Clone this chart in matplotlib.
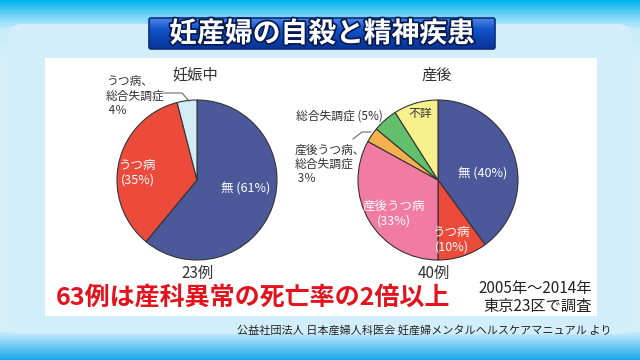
import matplotlib
matplotlib.use("Agg")
import matplotlib.pyplot as plt
import numpy as np
from matplotlib.colors import LinearSegmentedColormap
from matplotlib.patches import FancyBboxPatch, Rectangle
import matplotlib.patheffects as pe

plt.rcParams["font.family"] = ["Noto Sans CJK JP", "DejaVu Sans"]

TITLE = "妊産婦の自殺と精神疾患"
# pregnancy
PREG_LABELS = ["無", "うつ病", "うつ病、総合失調症"]
PREG_VALUES = [61, 35, 4]
PREG_COLORS = ["#4b5899", "#ec4b3c", "#d2ecf5"]
PREG_N = "23例"
# postpartum
POST_LABELS = ["無", "うつ病", "産後うつ病", "産後うつ病、総合失調症", "総合失調症", "不詳"]
POST_VALUES = [40, 10, 33, 3, 5, 9]
POST_COLORS = ["#4b5899", "#ec4b3c", "#f17ba3", "#f5b14d", "#62c06c", "#f8f08c"]
POST_N = "40例"
HEADLINE = "63例は産科異常の死亡率の2倍以上"
NOTE = ["2005年～2014年", "東京23区で調査"]
SOURCE = "公益社団法人 日本産婦人科医会 妊産婦メンタルヘルスケアマニュアル より"

W, H = 640, 360
fig = plt.figure(figsize=(6.4, 3.6), dpi=100)


def px_axes(z):
    a = fig.add_axes([0, 0, 1, 1])
    a.set_xlim(0, W); a.set_ylim(H, 0); a.axis("off"); a.set_zorder(z)
    a.patch.set_alpha(0)
    return a


bg = px_axes(0)

# background + panels
sky = LinearSegmentedColormap.from_list("sky", ["#00b3ef", "#6fd2f6", "#c9ecfb", "#d6f0fb", "#d6f0fb", "#1aa9ee"])
grad = np.concatenate([np.linspace(0, 0.4, 30), np.linspace(0.4, 0.6, 30),
                       np.linspace(0.6, 0.8, 270), np.linspace(0.8, 1.0, 30)])[:, None]
bg.imshow(grad, cmap=sky, extent=[0, W, H, 0], aspect="auto", zorder=0)
bg.add_patch(FancyBboxPatch((8, 24), 624, 310, boxstyle="round,pad=0,rounding_size=14",
                            fc="#d3eefb", ec="none", zorder=1))
bg.add_patch(Rectangle((45, 58), 552, 258, fc="white", ec="none", zorder=2))

# title box with gradient
box = FancyBboxPatch((149, 18), 346, 31, boxstyle="round,pad=0,rounding_size=2",
                     fc="none", ec="#0b2d7c", lw=1.2, zorder=4)
bg.add_patch(box)
tg = LinearSegmentedColormap.from_list("tg", ["#4f86e6", "#1356cc", "#0b42b0", "#083596"])
im = bg.imshow(np.linspace(0, 1, 50)[:, None], cmap=tg, extent=[149, 495, 49, 18],
               aspect="auto", zorder=3)
im.set_clip_path(box)
bg.text(322, 34, TITLE, color="white", fontsize=20, fontweight="bold", ha="center", va="center",
        zorder=5, path_effects=[pe.withStroke(linewidth=2.5, foreground="#061a50")])


def pie_axes(cx, cy, r):
    return fig.add_axes([(cx - r) / W, 1 - (cy + r) / H, 2 * r / W, 2 * r / H])


for cx, vals, cols in [(197, PREG_VALUES, PREG_COLORS), (438, POST_VALUES, POST_COLORS)]:
    ax = pie_axes(cx, 180, 80)
    ax.pie(vals, colors=cols, startangle=90, counterclock=False,
           wedgeprops=dict(edgecolor="#333333", linewidth=0.8, clip_on=False))
    ax.set_xlim(-1, 1); ax.set_ylim(-1, 1); ax.set_aspect("equal")
    ax.axis("off"); ax.set_zorder(5)

fg = px_axes(10)
txt = dict(color="#333333")
wt = dict(color="white", fontsize=9)
# pregnancy labels
fg.text(195, 75, "妊娠中", ha="center", va="center", fontsize=11, **txt)
fg.text(197, 273, PREG_N, ha="center", va="center", fontsize=11, **txt)
fg.text(106, 96, "うつ病、\n総合失調症\n 4％", ha="left", va="center", fontsize=8.5, linespacing=1.1, **txt)
fg.plot([164, 182, 189], [93, 93, 101], color="#555555", lw=0.7)
fg.text(138, 173, "うつ病\n(35%)", ha="center", va="center", linespacing=1.2, **wt)
fg.text(246, 188, "無 (61%)", ha="center", va="center", **wt)
# postpartum labels
fg.text(437, 75, "産後", ha="center", va="center", fontsize=11, **txt)
fg.text(434, 273, POST_N, ha="center", va="center", fontsize=11, **txt)
fg.text(339, 116, "総合失調症 (5%)", ha="center", va="center", fontsize=8.5, **txt)
fg.text(420, 114, "不詳", ha="center", va="center", fontsize=8.5, **txt)
fg.text(295, 164, "産後うつ病、\n総合失調症\n 3％", ha="left", va="center", fontsize=8.5, linespacing=1.1, **txt)
fg.plot([353, 362, 371], [139, 132, 132], color="#555555", lw=0.7)
fg.text(483, 173, "無 (40%)", ha="center", va="center", **wt)
fg.text(394, 214, "産後うつ病\n(33%)", ha="center", va="center", linespacing=1.2, **wt)
fg.text(452, 240, "うつ病\n(10%)", ha="center", va="center", linespacing=1.2, **wt)

# bottom texts
fg.text(56, 298, HEADLINE, color="#e3121c", fontsize=18, fontweight="bold", ha="left", va="center")
fg.text(592, 289, NOTE[0], color="#222222", fontsize=11, ha="right", va="center")
fg.text(592, 306, NOTE[1], color="#222222", fontsize=11, ha="right", va="center")
fg.text(612, 330, SOURCE, color="#222222", fontsize=8, ha="right", va="center")

fig.savefig("out.png", dpi=100)
